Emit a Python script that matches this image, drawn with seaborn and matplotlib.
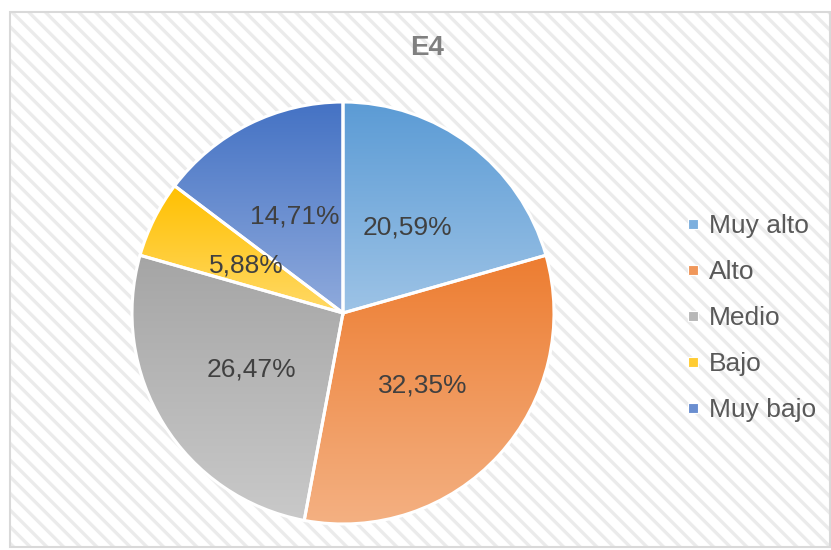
import numpy as np
import matplotlib
matplotlib.use("Agg")
import matplotlib.pyplot as plt
from matplotlib.patches import Rectangle
from matplotlib.lines import Line2D
import matplotlib.colors as mcolors
import seaborn as sns

categories = ["Muy alto", "Alto", "Medio", "Bajo", "Muy bajo"]
counts = [7, 11, 9, 2, 5]
title = "E4"
top_colors = ["#5B9BD5", "#ED7D31", "#A5A5A5", "#FFC000", "#4472C4"]
bottom_colors = ["#9DC3E6", "#F4B183", "#C9C9C9", "#FFD966", "#8FAADC"]

sns.set_theme(style="white")
plt.rcParams["font.family"] = ["Liberation Sans", "DejaVu Sans"]
plt.rcParams["hatch.linewidth"] = 2.4

W, H = 831, 550
fig = plt.figure(figsize=(W / 100, H / 100), dpi=100)
fig.patch.set_facecolor("white")

# hatched background with border
bg = Rectangle((10 / W, 3 / H), 820 / W, 535 / H, transform=fig.transFigure,
               facecolor="white", edgecolor="#ebebeb", hatch="\\\\", lw=0, zorder=-2)
fig.patches.append(bg)
border = Rectangle((10 / W, 3 / H), 820 / W, 535 / H, transform=fig.transFigure,
                   facecolor="none", edgecolor="#d9d9d9", lw=1.5, zorder=-1)
fig.patches.append(border)

cx, cy, R = 343, 313, 211
pad = 1.03
ax = fig.add_axes([(cx - R * pad) / W, (H - cy - R * pad) / H, 2 * R * pad / W, 2 * R * pad / H])
ax.set_facecolor("none")
ax.set_zorder(2)

mid = [mcolors.to_hex((np.array(mcolors.to_rgb(a)) + np.array(mcolors.to_rgb(b))) / 2)
       for a, b in zip(top_colors, bottom_colors)]

wedges, texts, autotexts = ax.pie(
    counts, startangle=90, counterclock=False, colors=mid,
    autopct=lambda p: f"{p:.2f}%".replace(".", ","), pctdistance=0.51,
    wedgeprops=dict(edgecolor="white", linewidth=2.2),
    textprops=dict(fontsize=19, color="#404040"))
ax.set_xlim(-pad, pad)
ax.set_ylim(-pad, pad)
ax.set_aspect("equal")
ax.axis("off")

for w, c0, c1 in zip(wedges, top_colors, bottom_colors):
    verts = w.get_path().vertices
    x0, x1 = verts[:, 0].min(), verts[:, 0].max()
    y0, y1 = verts[:, 1].min(), verts[:, 1].max()
    cmap = mcolors.LinearSegmentedColormap.from_list("g", [c1, c0])
    grad = np.linspace(0, 1, 256).reshape(-1, 1)
    im = ax.imshow(grad, cmap=cmap, extent=[x0, x1, y0, y1], origin="lower",
                   aspect="auto", zorder=1.1, interpolation="bilinear")
    im.set_clip_path(w)
    w.set_facecolor("none")
    w.set_zorder(1.2)
for t in autotexts:
    t.set_zorder(10)
ax.set_xlim(-pad, pad)
ax.set_ylim(-pad, pad)

fig.text(427 / W, 1 - 48 / H, title, ha="center", va="center", fontsize=20,
         fontweight="bold", color="#808080")

handles = [Line2D([0], [0], marker="s", linestyle="none", markersize=6.5,
                  markerfacecolor=c, markeredgecolor="white", markeredgewidth=0.8)
           for c in mid]
fig.legend(handles, categories, loc="center left", bbox_to_anchor=(672 / W, 1 - 318 / H),
           frameon=False, fontsize=19, labelcolor="#595959", handlelength=0.6,
           handletextpad=0.3, labelspacing=0.83, borderpad=0)

fig.savefig("out.png", dpi=100)
